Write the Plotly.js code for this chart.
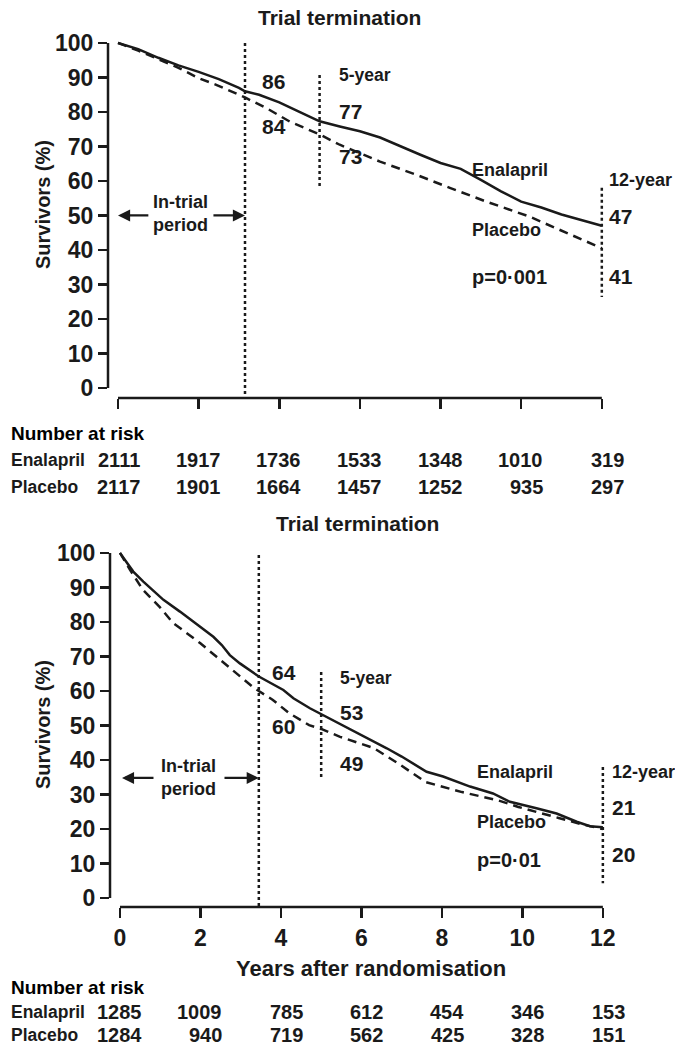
<!DOCTYPE html>
<html>
<head>
<meta charset="utf-8">
<script src="https://cdn.plot.ly/plotly-3.0.1.min.js"></script>
<style>html,body{margin:0;padding:0;background:#fff;}#chart{width:675px;height:1052px;}</style>
</head>
<body>
<div id="chart"></div>
<script>
// ---------- Data ----------
// Top panel (prevention trial)
const topEnaYears = [0, 0.5, 1, 1.5, 2, 2.5, 3, 3.15, 3.5, 4, 4.5, 5, 5.5, 6, 6.5, 7, 7.5, 8, 8.5, 9, 9.5, 10, 10.5, 11, 11.5, 12];
const topEnaSurv  = [100, 98.2, 95.7, 93.5, 91.6, 89.5, 87, 86, 85, 82.8, 80, 77.3, 75.8, 74.4, 72.6, 70, 67.6, 65.2, 63.5, 60.3, 57, 54, 52.3, 50.3, 48.7, 47];
const topPlaYears = [0, 0.5, 1, 1.5, 2, 2.45, 3, 3.15, 3.7, 4.26, 5, 5.5, 6.5, 7.4, 8.23, 9.14, 10.2, 10.96, 12];
const topPlaSurv  = [100, 97.8, 95.3, 92.8, 89.8, 87.8, 85, 84.2, 81, 77.2, 73.5, 70.5, 65.6, 61.8, 58, 54, 49.7, 45.8, 40.5];

// Bottom panel (treatment trial)
const botEnaYears = [0, 0.33, 0.58, 1.08, 1.49, 1.99, 2.32, 2.53, 2.73, 2.98, 3.45, 4.06, 4.31, 4.72, 5.0, 5.47, 6.0, 6.63, 7.0, 7.62, 8.03, 8.7, 9.27, 9.69, 10.35, 10.85, 11.35, 11.68, 12];
const botEnaSurv  = [100, 94.6, 91.7, 86.4, 83, 78.6, 75.7, 73.3, 70.4, 68, 64.2, 60.3, 57.9, 55, 53.3, 50.6, 47.2, 43.4, 41, 36.6, 35.2, 32.3, 30.3, 27.9, 26, 24.5, 22.1, 20.8, 20.5];
const botPlaYears = [0, 0.25, 0.57, 0.99, 1.32, 1.66, 1.99, 2.4, 2.8, 3.3, 3.45, 3.8, 4.2, 4.7, 5.0, 5.47, 6.3, 6.9, 7.6, 8.5, 9.4, 9.9, 10.9, 11.5, 12];
const botPlaSurv  = [100, 95.1, 89.3, 84.3, 79.7, 76.8, 73.9, 69.9, 66, 61.2, 60, 57.4, 53.6, 50.1, 49, 46.7, 43.5, 39.1, 33.6, 30.7, 28.3, 26.4, 23.2, 21.3, 20];

const xTicks = [0, 2, 4, 6, 8, 10, 12];
const yTicks = [0, 10, 20, 30, 40, 50, 60, 70, 80, 90, 100];

const topRiskEna = ['2111', '1917', '1736', '1533', '1348', '1010', '319'];
const topRiskPla = ['2117', '1901', '1664', '1457', '1252', '935', '297'];
const botRiskEna = ['1285', '1009', '785', '612', '454', '346', '153'];
const botRiskPla = ['1284', '940', '719', '562', '425', '328', '151'];

const trialEndTop = 3.15;
const trialEndBot = 3.45;

// ---------- Styling helpers ----------
const FONT = 'Liberation Sans, Arial, sans-serif';
const INK = '#1a1a1a';
const W = 675, H = 1052;
const py = p => 1 - p / H;
const px = p => p / W;

function txt(text, x, y, xref, yref, size, opts) {
  return Object.assign({
    text: text, x: x, y: y, xref: xref, yref: yref, showarrow: false,
    xanchor: 'left', yanchor: 'middle',
    font: {family: FONT, size: size, color: INK, weight: 'bold'}
  }, opts || {});
}

const traces = [
  {x: topEnaYears, y: topEnaSurv, xaxis: 'x', yaxis: 'y', mode: 'lines', line: {color: INK, width: 2.5}},
  {x: topPlaYears, y: topPlaSurv, xaxis: 'x', yaxis: 'y', mode: 'lines', line: {color: INK, width: 2.5, dash: '9px,6px'}},
  {x: botEnaYears, y: botEnaSurv, xaxis: 'x2', yaxis: 'y2', mode: 'lines', line: {color: INK, width: 2.5}},
  {x: botPlaYears, y: botPlaSurv, xaxis: 'x2', yaxis: 'y2', mode: 'lines', line: {color: INK, width: 2.5, dash: '9px,6px'}}
];

const axisCommon = {
  showgrid: false, zeroline: false, showline: false,
  ticks: 'outside', tickcolor: INK, tickwidth: 2.5, fixedrange: true
};
const tickFont = {family: FONT, size: 23, color: INK, weight: 'bold'};

const layout = {
  width: W, height: H,
  margin: {l: 0, r: 0, t: 0, b: 0},
  paper_bgcolor: '#fff', plot_bgcolor: 'rgba(0,0,0,0)',
  showlegend: false,
  xaxis: Object.assign({}, axisCommon, {
    domain: [108 / W, 626 / W], range: [-0.248, 12.6], anchor: 'y',
    tickvals: xTicks, ticklen: 10, showticklabels: false
  }),
  yaxis: Object.assign({}, axisCommon, {
    domain: [py(398), py(32.6)], range: [-2.9, 103], anchor: 'x',
    tickvals: yTicks, ticklen: 9, tickfont: tickFont
  }),
  xaxis2: Object.assign({}, axisCommon, {
    domain: [110 / W, 627 / W], range: [-0.248, 12.6], anchor: 'y2',
    tickvals: xTicks, ticklen: 10, tickfont: tickFont
  }),
  yaxis2: Object.assign({}, axisCommon, {
    domain: [py(907), py(542.6)], range: [-2.6, 103], anchor: 'x2',
    tickvals: yTicks, ticklen: 9, tickfont: tickFont
  }),
  shapes: [],
  annotations: []
};

const S = layout.shapes, A = layout.annotations;
const solid = {color: INK, width: 2.5};
const dotted = {color: INK, width: 2.5, dash: 'dot'};

// detached axis lines
S.push({type: 'line', xref: 'x domain', yref: 'y', x0: 0, x1: 0, y0: 0, y1: 100, line: solid});
S.push({type: 'line', xref: 'x', yref: 'y domain', x0: 0, x1: 12, y0: 0, y1: 0, line: solid});
S.push({type: 'line', xref: 'x2 domain', yref: 'y2', x0: 0, x1: 0, y0: 0, y1: 100, line: solid});
S.push({type: 'line', xref: 'x2', yref: 'y2 domain', x0: 0, x1: 12, y0: 0, y1: 0, line: solid});

// dotted reference lines - top
S.push({type: 'line', xref: 'x', yref: 'y', x0: trialEndTop, x1: trialEndTop, y0: 100, y1: -2.9, line: dotted});
S.push({type: 'line', xref: 'x', yref: 'y', x0: 5, x1: 5, y0: 90.7, y1: 58.3, line: dotted});
S.push({type: 'line', xref: 'x', yref: 'y', x0: 12, x1: 12, y0: 58, y1: 26.4, line: dotted});
// dotted reference lines - bottom
S.push({type: 'line', xref: 'x2', yref: 'y2', x0: trialEndBot, x1: trialEndBot, y0: 99.4, y1: -2.6, line: dotted});
S.push({type: 'line', xref: 'x2', yref: 'y2', x0: 5, x1: 5, y0: 65.5, y1: 35, line: dotted});
S.push({type: 'line', xref: 'x2', yref: 'y2', x0: 12, x1: 12, y0: 38, y1: 4.3, line: dotted});

// y titles
A.push(txt('Survivors (%)', px(43), py(205), 'paper', 'paper', 20, {xanchor: 'center', textangle: -90}));
A.push(txt('Survivors (%)', px(43), py(725), 'paper', 'paper', 20, {xanchor: 'center', textangle: -90}));
// x title
A.push(txt('Years after randomisation', px(371), py(968), 'paper', 'paper', 22, {xanchor: 'center'}));
// panel titles
A.push(txt('Trial termination', px(340), py(18), 'paper', 'paper', 21, {xanchor: 'center'}));
A.push(txt('Trial termination', px(357), py(523), 'paper', 'paper', 21, {xanchor: 'center'}));

const NUM = 21, LAB = 18, PV = 20, IT = 18;
// Top panel texts
A.push(txt('86', 3.52, 88.7, 'x', 'y', NUM));
A.push(txt('84', 3.52, 75.7, 'x', 'y', NUM));
A.push(txt('5-year', 5.43, 90.7, 'x', 'y', 17.5));
A.push(txt('77', 5.43, 80, 'x', 'y', NUM));
A.push(txt('73', 5.43, 67, 'x', 'y', NUM));
A.push(txt('Enalapril', 8.73, 63.2, 'x', 'y', LAB));
A.push(txt('Placebo', 8.73, 45.8, 'x', 'y', LAB));
A.push(txt('p=0·001', 8.73, 32.2, 'x', 'y', PV));
A.push(txt('12-year', 12.12, 60.3, 'x', 'y', LAB));
A.push(txt('47', 12.12, 49.6, 'x', 'y', NUM));
A.push(txt('41', 12.12, 32.2, 'x', 'y', NUM));
A.push(txt('In-trial<br>period', 1.56, 50.7, 'x', 'y', IT, {xanchor: 'center'}));
A.push({x: 0, y: 50, ax: 0.79, ay: 50, xref: 'x', yref: 'y', axref: 'x', ayref: 'y', text: '', showarrow: true, arrowhead: 2, arrowsize: 1.1, arrowwidth: 2.2, arrowcolor: INK});
A.push({x: trialEndTop, y: 50, ax: 2.33, ay: 50, xref: 'x', yref: 'y', axref: 'x', ayref: 'y', text: '', showarrow: true, arrowhead: 2, arrowsize: 1.1, arrowwidth: 2.2, arrowcolor: INK});

// Bottom panel texts
A.push(txt('64', 3.73, 65.5, 'x2', 'y2', NUM));
A.push(txt('60', 3.73, 49.6, 'x2', 'y2', NUM));
A.push(txt('5-year', 5.42, 63.8, 'x2', 'y2', 17.5));
A.push(txt('53', 5.42, 53.9, 'x2', 'y2', NUM));
A.push(txt('49', 5.42, 39.1, 'x2', 'y2', NUM));
A.push(txt('Enalapril', 8.82, 36.5, 'x2', 'y2', LAB));
A.push(txt('Placebo', 8.82, 22, 'x2', 'y2', LAB));
A.push(txt('p=0·01', 8.82, 11, 'x2', 'y2', PV));
A.push(txt('12-year', 12.17, 36.5, 'x2', 'y2', LAB));
A.push(txt('21', 12.17, 26.1, 'x2', 'y2', NUM));
A.push(txt('20', 12.17, 12.5, 'x2', 'y2', NUM));
A.push(txt('In-trial<br>period', 1.71, 34.9, 'x2', 'y2', IT, {xanchor: 'center'}));
A.push({x: 0.05, y: 34.8, ax: 0.87, ay: 34.8, xref: 'x2', yref: 'y2', axref: 'x2', ayref: 'y2', text: '', showarrow: true, arrowhead: 2, arrowsize: 1.1, arrowwidth: 2.2, arrowcolor: INK});
A.push({x: trialEndBot, y: 34.8, ax: 2.56, ay: 34.8, xref: 'x2', yref: 'y2', axref: 'x2', ayref: 'y2', text: '', showarrow: true, arrowhead: 2, arrowsize: 1.1, arrowwidth: 2.2, arrowcolor: INK});

// Number at risk tables
function riskTable(xref, yHead, yEna, yPla, ena, pla) {
  A.push(txt('Number at risk', px(9), py(yHead), 'paper', 'paper', 19, {font: {family: FONT, size: 19, color: '#000', weight: 'bold'}}));
  A.push(txt('Enalapril', px(9), py(yEna), 'paper', 'paper', 17.5));
  A.push(txt('Placebo', px(9), py(yPla), 'paper', 'paper', 17.5));
  xTicks.forEach((t, i) => {
    A.push(txt(ena[i], t, py(yEna), xref, 'paper', 20, {xanchor: 'right', xshift: 24}));
    A.push(txt(pla[i], t, py(yPla), xref, 'paper', 20, {xanchor: 'right', xshift: 24}));
  });
}
riskTable('x', 433, 460, 487, topRiskEna, topRiskPla);
riskTable('x2', 987, 1012, 1035, botRiskEna, botRiskPla);

Plotly.newPlot('chart', traces, layout, {staticPlot: true, displayModeBar: false});
</script>
</body>
</html>
